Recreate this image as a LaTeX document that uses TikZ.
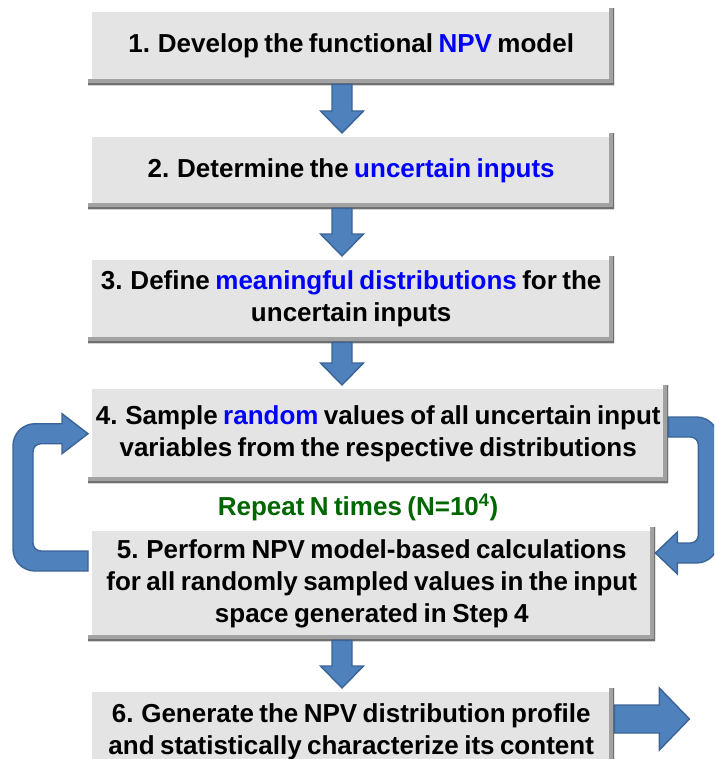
\documentclass[tikz,border=0pt]{standalone}
\usepackage{fontspec}
\setmainfont{Liberation Sans}[WordSpace=0.75]
\usetikzlibrary{calc, shadows}
\definecolor{mFace}{HTML}{E4E4E4}
\definecolor{mEdge}{HTML}{A2A2A2}
\definecolor{mEdgeDark}{HTML}{707070}
\definecolor{mArrow}{HTML}{4F81BD}
\definecolor{mArrowLine}{HTML}{3B6496}
\definecolor{mHi}{HTML}{0000FF}
\definecolor{mRepeat}{HTML}{006600}
\newcommand{\hi}[1]{\textcolor{mHi}{#1}}
% fat arrow from the bottom of one step down to the top of the next
\newcommand{\blockdown}[2]{%
  \coordinate (top) at (342,0 |- #1.south);
  \coordinate (tip) at (342,0 |- #2.north);
  \draw[blockarrow] ($(top)+(-10,0)$) -- ($(tip)+(-10,-22)$) -- ($(tip)+(-21.5,-22)$) -- (tip)
    -- ($(tip)+(21.5,-22)$) -- ($(tip)+(10,-22)$) -- ($(top)+(10,0)$) -- cycle;}

\begin{document}
\begin{tikzpicture}[x=1pt, y=-1pt,
  stepbox/.style={anchor=north west, inner sep=0pt, align=center, fill=mFace,
    font=\fontsize{26}{32}\selectfont\bfseries,
    drop shadow={shadow xshift=0pt, shadow yshift=-1.5pt, opacity=.35},
    path picture={
      \draw[white, line width=7pt] (path picture bounding box.south west)
        -- (path picture bounding box.north west) -- (path picture bounding box.north east);
      \draw[mEdge, line width=10pt] (path picture bounding box.north east)
        -- (path picture bounding box.south east) -- (path picture bounding box.south west);
      \draw[mEdgeDark, line width=3pt] (path picture bounding box.north east)
        -- (path picture bounding box.south east) -- (path picture bounding box.south west);}},
  blockarrow/.style={fill=mArrow, draw=mArrowLine, line width=1.4pt, line join=miter}]
  \useasboundingbox (0,0) rectangle (714,759);
  \clip (0,0) rectangle (714,759);

  % the six steps
  \node[stepbox, minimum width=526pt, minimum height=76pt] (s1) at (88,8)
    {1. Develop the functional \hi{NPV} model};
  \node[stepbox, minimum width=526pt, minimum height=75pt] (s2) at (88,133)
    {2. Determine the \hi{uncertain inputs}};
  \node[stepbox, minimum width=526pt, minimum height=86pt] (s3) at (88,256)
    {3. Define \hi{meaningful distributions} for the\\ uncertain inputs};
  \node[stepbox, minimum width=580pt, minimum height=97pt] (s4) at (88,385)
    {4. Sample \hi{random} values of all uncertain input\\ variables from the respective distributions};
  \node[font=\fontsize{26}{30}\selectfont\bfseries, text=mRepeat] (rep) at (358,507)
    {Repeat N times (N=10\textsuperscript{4})};
  \node[stepbox, minimum width=567pt, minimum height=113pt] (s5) at (88,527)
    {5. Perform NPV model-based calculations\\ for all randomly sampled values in the input\\ space generated in Step 4};
  \node[stepbox, minimum width=526pt, minimum height=88pt] (s6) at (88,688)
    {6. Generate the NPV distribution profile\\ and statistically characterize its content};

  \blockdown{s1}{s2}
  \blockdown{s2}{s3}
  \blockdown{s3}{s4}
  \blockdown{s5}{s6}

  % loop back from step 5 to step 4
  \coordinate (l5) at ($(s5.north west)+(0,34)$);
  \coordinate (l4) at (s4.west);
  \draw[blockarrow] ($(l5)+(0,10)$) [rounded corners=22pt] -- ($(l5)+(-75,10)$) -- ($(l4)+(-75,-10)$)
    [sharp corners] -- ($(l4)+(-26,-10)$) -- ($(l4)+(-26,-20)$) -- (l4) -- ($(l4)+(-26,20)$)
    -- ($(l4)+(-26,10)$) [rounded corners=8pt] -- ($(l4)+(-55,10)$) -- ($(l5)+(-55,-10)$)
    [sharp corners] -- ($(l5)+(0,-10)$) -- cycle;
  % and on from step 4 to step 5
  \coordinate (r4) at ($(s4.north east)+(0,42)$);
  \coordinate (r5) at ($(s5.north east)+(0,26)$);
  \draw[blockarrow] ($(r4)+(0,-10)$) [rounded corners=22pt] -- ($(r4)+(50,-10)$) -- ($(r5)+(63,10)$)
    [sharp corners] -- ($(r5)+(22,10)$) -- ($(r5)+(22,21)$) -- (r5) -- ($(r5)+(22,-21)$)
    -- ($(r5)+(22,-10)$) [rounded corners=8pt] -- ($(r5)+(43,-10)$) -- ($(r4)+(30,10)$)
    [sharp corners] -- ($(r4)+(0,10)$) -- cycle;
  % result goes out to the right
  \coordinate (o6) at ($(s6.north east)+(0,31)$);
  \draw[blockarrow] ($(o6)+(0,-14)$) -- ($(o6)+(45,-14)$) -- ($(o6)+(45,-31)$) -- ($(o6)+(75,0)$)
    -- ($(o6)+(45,31)$) -- ($(o6)+(45,14)$) -- ($(o6)+(0,14)$) -- cycle;
\end{tikzpicture}
\end{document}
